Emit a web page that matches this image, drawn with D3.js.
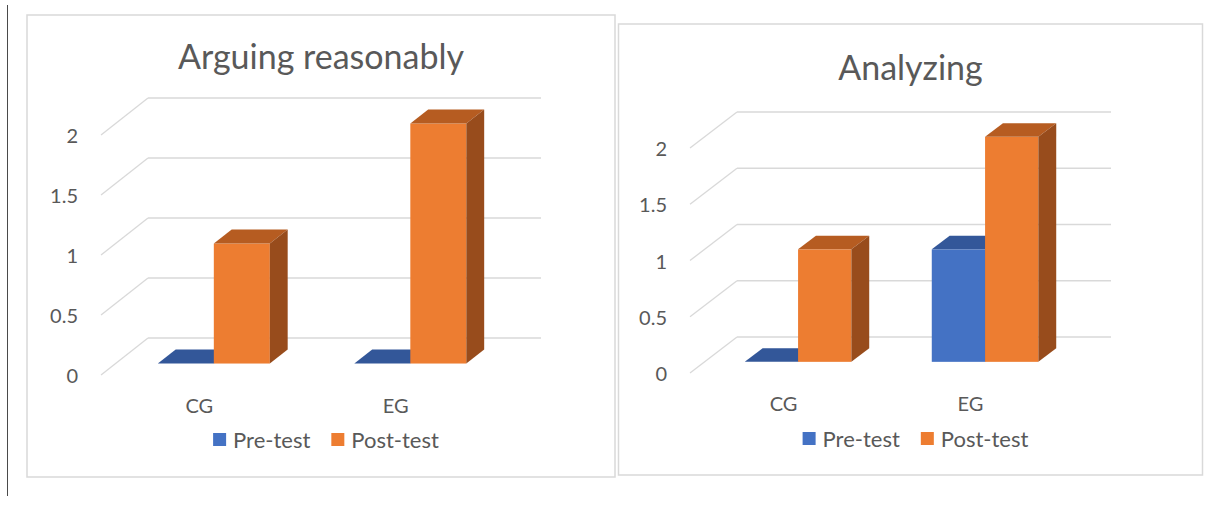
<!DOCTYPE html>
<html>
<head>
<meta charset="utf-8">
<script src="https://cdn.jsdelivr.net/npm/d3@7"></script>
<style>
  html, body { margin: 0; padding: 0; background: #ffffff; }
  svg { display: block; }
  text { font-family: Lato, "Open Sans", sans-serif; fill: #595959; }
</style>
</head>
<body>
<svg id="chart" width="1221" height="505"></svg>
<script>
// ---- data ----
const categories = ["CG", "EG"];
const seriesNames = ["Pre-test", "Post-test"];
const chartTitles = ["Arguing reasonably", "Analyzing"];
const arguingPre = [0, 0];
const arguingPost = [1, 2];
const analyzingPre = [0, 1];
const analyzingPost = [1, 2];
const yTickValues = [0, 0.5, 1, 1.5, 2];
const yTickLabels = ["0", "0.5", "1", "1.5", "2"];

// ---- look ----
const faceColors = [
  { front: "#4472C4", top: "#335799", side: "#2C4E8C" },
  { front: "#ED7D31", top: "#B65C21", side: "#984C1C" }
];
const gridColor = "#d9d9d9";

// panel layout: frame box, back wall of the plot, and the floor depth vector
const panels = [
  {
    title: chartTitles[0], values: [arguingPre, arguingPost],
    box: { x: 27, y: 15, w: 588, h: 462 }, titleY: 69,
    wall: { x0: 148, x1: 541, yZero: 338, yTop: 98 },
    depth: { dx: -47, dy: 37 }, legendY: 439.5
  },
  {
    title: chartTitles[1], values: [analyzingPre, analyzingPost],
    box: { x: 618.5, y: 24, w: 584, h: 451 }, titleY: 80,
    wall: { x0: 737, x1: 1111, yZero: 337, yTop: 112 },
    depth: { dx: -47, dy: 36 }, legendY: 438.5
  }
];

const svg = d3.select("#chart");

// page margin rule on the far left
svg.append("line")
  .attr("x1", 7.5).attr("x2", 7.5).attr("y1", 5).attr("y2", 496)
  .attr("stroke", "#4a4a4a").attr("stroke-width", 1);

panels.forEach(p => drawPanel(p));

function drawPanel(p) {
  const g = svg.append("g");
  const { box, wall, depth } = p;

  g.append("rect")
    .attr("x", box.x).attr("y", box.y).attr("width", box.w).attr("height", box.h)
    .attr("fill", "#ffffff").attr("stroke", gridColor).attr("stroke-width", 1.5);

  g.append("text")
    .attr("x", box.x + box.w / 2).attr("y", p.titleY)
    .attr("text-anchor", "middle")
    .style("font-size", "34px")
    .text(p.title);

  const y = d3.scaleLinear().domain([0, 2]).range([wall.yZero, wall.yTop]);
  const x = d3.scaleBand().domain(categories).range([wall.x0, wall.x1])
    .paddingInner(0.43).paddingOuter(0.215);
  const xs = d3.scaleBand().domain(seriesNames).range([0, x.bandwidth()]);

  // gridlines: back wall + floor diagonal on the left wall
  const grid = g.append("g");
  yTickValues.forEach(v => {
    const yy = y(v);
    grid.append("line")
      .attr("x1", wall.x0).attr("x2", wall.x1).attr("y1", yy).attr("y2", yy)
      .attr("stroke", gridColor).attr("stroke-width", 1.6);
    grid.append("line")
      .attr("x1", wall.x0).attr("y1", yy)
      .attr("x2", wall.x0 + depth.dx).attr("y2", yy + depth.dy)
      .attr("stroke", gridColor).attr("stroke-width", 1.3);
  });

  // y tick labels sit at the front edge of the side wall
  yTickValues.forEach((v, i) => {
    g.append("text")
      .attr("x", wall.x0 + depth.dx - 23)
      .attr("y", y(v) + depth.dy)
      .attr("text-anchor", "end")
      .attr("dominant-baseline", "central")
      .style("font-size", "20px")
      .text(yTickLabels[i]);
  });

  // category labels under the front plane
  categories.forEach(c => {
    g.append("text")
      .attr("x", x(c) + x.bandwidth() / 2 + depth.dx)
      .attr("y", wall.yZero + depth.dy + 30)
      .attr("text-anchor", "middle")
      .attr("dominant-baseline", "central")
      .style("font-size", "20px")
      .text(c);
  });

  // 3D bars, centred in the floor depth
  const frontK = 0.69, backK = 0.31;
  const fdx = depth.dx * frontK, fdy = depth.dy * frontK;
  const bdx = depth.dx * (backK - frontK), bdy = depth.dy * (backK - frontK);

  const bars = g.append("g");
  categories.forEach((c, ci) => {
    seriesNames.forEach((s, si) => {
      const v = p.values[si][ci];
      const col = faceColors[si];
      const fx = x(c) + xs(s) + fdx;
      const w = xs.bandwidth();
      const yt = y(v) + fdy;
      const yb = y(0) + fdy;
      const bar = bars.append("g");
      if (yb - yt > 0) {
        bar.append("rect")
          .attr("x", fx).attr("y", yt).attr("width", w).attr("height", yb - yt)
          .attr("fill", col.front);
      }
      bar.append("path")
        .attr("d", `M${fx},${yt}L${fx + w},${yt}L${fx + w + bdx},${yt + bdy}L${fx + bdx},${yt + bdy}Z`)
        .attr("fill", col.top);
      bar.append("path")
        .attr("d", `M${fx + w},${yt}L${fx + w + bdx},${yt + bdy}L${fx + w + bdx},${yb + bdy}L${fx + w},${yb}Z`)
        .attr("fill", col.side);
    });
  });

  // legend, centred under the plot
  const legend = g.append("g");
  const items = seriesNames.map((s, i) => {
    const it = legend.append("g");
    it.append("rect").attr("x", 0).attr("y", -6.5).attr("width", 13).attr("height", 13)
      .attr("fill", faceColors[i].front);
    const t = it.append("text").attr("x", 20).attr("y", 0)
      .attr("dominant-baseline", "central")
      .style("font-size", "22px").text(s);
    return { it, w: 20 + t.node().getComputedTextLength() };
  });
  const gap = 21;
  const total = d3.sum(items, d => d.w) + gap * (items.length - 1);
  let cx = box.x + box.w / 2 + 5 - total / 2;
  items.forEach(d => {
    d.it.attr("transform", `translate(${cx},${p.legendY})`);
    cx += d.w + gap;
  });
}
</script>
</body>
</html>
